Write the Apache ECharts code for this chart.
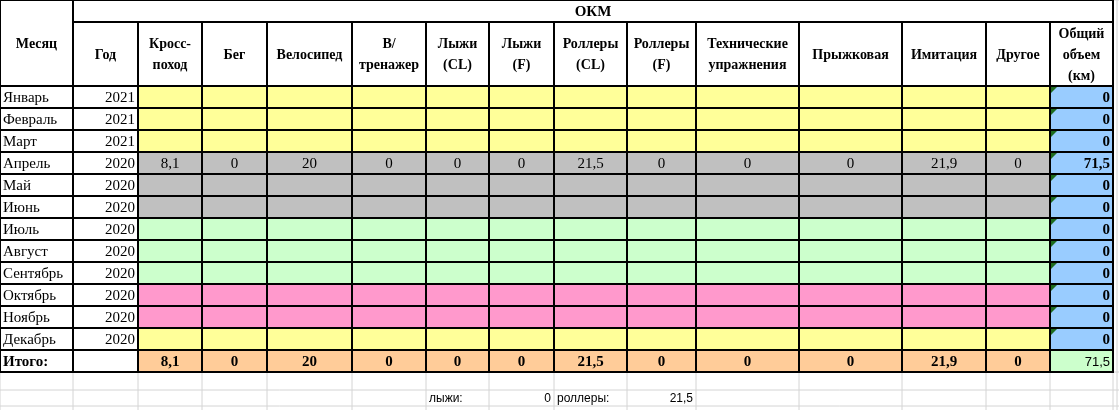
<!DOCTYPE html>
<html>
<head>
    <meta charset="utf-8">
    <title>ОКМ</title>
    <script src="https://cdn.jsdelivr.net/npm/echarts@6/dist/echarts.min.js"></script>
    <style type="text/css">
        body{ margin:0; background:#fff; }
    </style>
</head>
<body>
<div id="main" style="width:1119px;height:410px;"></div>
<script type="text/javascript">
// данные таблицы
var months = ['Январь','Февраль','Март','Апрель','Май','Июнь','Июль','Август','Сентябрь','Октябрь','Ноябрь','Декабрь'];
var years = [2021,2021,2021,2020,2020,2020,2020,2020,2020,2020,2020,2020];
var columns = ['Кросс-\nпоход','Бег','Велосипед','В/\nтренажер','Лыжи\n(CL)','Лыжи\n(F)','Роллеры\n(CL)','Роллеры\n(F)','Технические\nупражнения','Прыжковая','Имитация','Другое'];
var aprilValues = ['8,1','0','20','0','0','0','21,5','0','0','0','21,9','0'];
var totalValues = ['8,1','0','20','0','0','0','21,5','0','0','0','21,9','0'];
var volumeByMonth = ['0','0','0','71,5','0','0','0','0','0','0','0','0'];
var grandTotal = '71,5';
var skiSum = '0', rollerSum = '21,5';

// разметка
var colX = [0,73,138,202,267,352,426,489,554,627,696,799,902,986,1050,1113];
var headTop = 22, headBottom = 86, rowH = 22;
var rowColors = ['#ffff99','#ffff99','#ffff99','#c0c0c0','#c0c0c0','#c0c0c0','#ccffcc','#ccffcc','#ccffcc','#ff99cc','#ff99cc','#ffff99'];
var serif = '"Liberation Serif", "Times New Roman", serif';
var sans = '"Liberation Sans", Arial, sans-serif';

var cells = [];
function cell(x0,x1,y0,y1,text,fill,align,bold,font,size,border,corner){
    cells.push([x0,x1,y0,y1,text,fill,align,bold?'bold':'normal',font,size,border?1:0,corner?1:0]);
}
// шапка
cell(0,73,0,headBottom,'Месяц','#fff','center',true,serif,14,true);
cell(73,1113,0,headTop,'ОКМ','#fff','center',true,serif,15,true);
cell(73,138,headTop,headBottom,'Год','#fff','center',true,serif,14,true);
columns.forEach(function(c,i){
    cell(colX[i+2],colX[i+3],headTop,headBottom,c,'#fff','center',true,serif,14,true);
});
cell(1050,1113,headTop,headBottom,'Общий\nобъем\n(км)','#fff','center',true,serif,14,true);
// строки месяцев
months.forEach(function(m,r){
    var y0 = headBottom + r*rowH, y1 = y0 + rowH;
    cell(0,73,y0,y1,m,'#fff','left',false,serif,15,true);
    cell(73,138,y0,y1,String(years[r]),'#fff','right',false,serif,15,true);
    columns.forEach(function(c,i){
        cell(colX[i+2],colX[i+3],y0,y1,r===3?aprilValues[i]:'',rowColors[r],'center',false,serif,15,true);
    });
    cell(1050,1113,y0,y1,volumeByMonth[r],'#99ccff','right',true,serif,15,true,true);
});
// итого
var ty0 = headBottom + months.length*rowH, ty1 = ty0 + rowH;
cell(0,73,ty0,ty1,'Итого:','#fff','left',true,serif,15,true);
cell(73,138,ty0,ty1,'','#fff','center',false,serif,15,true);
totalValues.forEach(function(v,i){
    cell(colX[i+2],colX[i+3],ty0,ty1,v,'#ffcc99','center',true,serif,15,true);
});
cell(1050,1113,ty0,ty1,grandTotal,'#ccffcc','right',false,sans,13,true);
// нижняя строка
cell(426,489,390,406,'лыжи:','rgba(0,0,0,0)','left',false,sans,12,false);
cell(489,554,390,406,skiSum,'rgba(0,0,0,0)','right',false,sans,12,false);
cell(554,627,390,406,'роллеры:','rgba(0,0,0,0)','left',false,sans,12,false);
cell(627,696,390,406,rollerSum,'rgba(0,0,0,0)','right',false,sans,12,false);

// светлая сетка листа
var gridLines = [];
colX.concat([1117]).forEach(function(x){ gridLines.push([x,0,x,410]); });
[0,372,390,406].forEach(function(y){ gridLines.push([0,y,1119,y]); });

var myChart = echarts.init(document.getElementById('main'));
myChart.setOption({
    animation:false,
    grid:{left:0,right:0,top:0,bottom:0},
    xAxis:{type:'value',min:0,max:1119,show:false},
    yAxis:{type:'value',min:0,max:410,inverse:true,show:false},
    series:[{
        type:'custom',
        silent:true,
        data:gridLines,
        renderItem:function(params,api){
            var a = api.coord([api.value(0),api.value(1)]);
            var b = api.coord([api.value(2),api.value(3)]);
            return {type:'line',shape:{x1:a[0],y1:a[1],x2:b[0],y2:b[1]},style:{stroke:'#d4d4d4',lineWidth:1}};
        }
    },{
        type:'custom',
        silent:true,
        data:cells,
        dimensions:['x0','x1','y0','y1','text','fill','align','weight','font','size','border','corner'],
        renderItem:function(params,api){
            var d = cells[params.dataIndex];
            var p0 = api.coord([d[0],d[2]]), p1 = api.coord([d[1],d[3]]);
            var w = p1[0]-p0[0], h = p1[1]-p0[1];
            var tx = d[6]==='left' ? p0[0]+3 : d[6]==='right' ? p1[0]-3 : p0[0]+w/2;
            var children = [{
                type:'rect',
                shape:{x:p0[0],y:p0[1],width:w,height:h},
                style:{fill:d[5],stroke:d[10]?'#000':null,lineWidth:2}
            }];
            if (d[11]) {
                children.push({type:'polygon',shape:{points:[[p0[0]+1,p0[1]+1],[p0[0]+7,p0[1]+1],[p0[0]+1,p0[1]+7]]},style:{fill:'#1e6b1e'}});
            }
            children.push({
                type:'text',
                style:{
                    x:tx,y:p0[1]+h/2+1,text:d[4],
                    align:d[6],verticalAlign:'middle',
                    font:d[7]+' '+d[9]+'px '+d[8],
                    lineHeight:d[9]+7,
                    fill:'#000'
                }
            });
            return {type:'group',children:children};
        }
    }]
});
</script>
</body>
</html>
